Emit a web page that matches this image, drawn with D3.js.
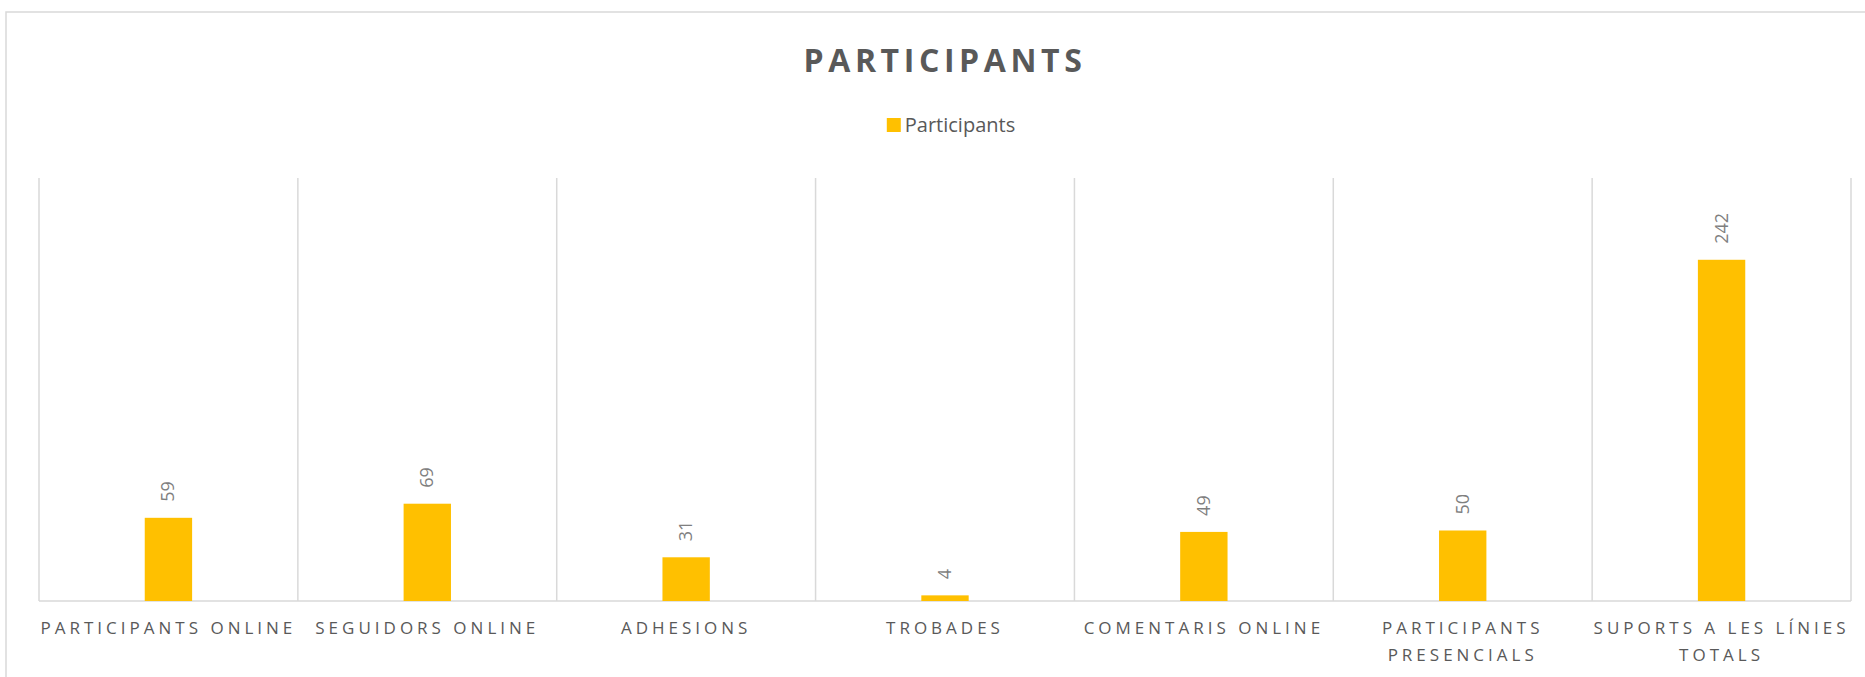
<!DOCTYPE html>
<html>
<head>
<meta charset="utf-8">
<script src="https://cdn.jsdelivr.net/npm/d3@7"></script>
<style>
  body { margin: 0; background: #fff; }
  text { font-family: "Open Sans", sans-serif; }
</style>
</head>
<body>
<svg width="1865" height="677"></svg>
<script>
// chart data
const categories = [
    "PARTICIPANTS ONLINE",
    "SEGUIDORS ONLINE",
    "ADHESIONS",
    "TROBADES",
    "COMENTARIS ONLINE",
    "PARTICIPANTS PRESENCIALS",
    "SUPORTS A LES LÍNIES TOTALS"
];
const values = [59, 69, 31, 4, 49, 50, 242];
const seriesName = "Participants";
const chartTitle = "PARTICIPANTS";

const svg = d3.select("svg");
const width = +svg.attr("width");
const height = +svg.attr("height");
const margin = {top: 178, right: 14, bottom: 76, left: 39};

// outer chart border
svg.append("rect")
    .attr("x", 6).attr("y", 12)
    .attr("width", width + 10).attr("height", height + 10)
    .attr("fill", "none")
    .attr("stroke", "#d9d9d9")
    .attr("stroke-width", 1.5);

const x = d3.scaleBand()
    .domain(categories)
    .range([margin.left, width - margin.right])
    .padding(0);

const y = d3.scaleLinear()
    .domain([0, 300])
    .range([height - margin.bottom, margin.top]);

const barW = x.bandwidth() * 0.183;

// title
svg.append("text")
    .attr("x", (margin.left + width - margin.right) / 2)
    .attr("y", 72)
    .attr("text-anchor", "middle")
    .attr("font-size", "32px")
    .attr("font-weight", 700)
    .attr("letter-spacing", "4.6px")
    .attr("fill", "#595959")
    .text(chartTitle);

// legend
const legend = svg.append("g");
legend.append("rect")
    .attr("x", 0).attr("y", -8)
    .attr("width", 14).attr("height", 14)
    .attr("fill", "#FFC000");
const legendLabel = legend.append("text")
    .attr("x", 18).attr("y", 6)
    .attr("font-size", "20px")
    .attr("fill", "#595959")
    .text(seriesName);
const legendW = 18 + legendLabel.node().getComputedTextLength();
legend.attr("transform", `translate(${(margin.left + width - margin.right) / 2 - legendW / 2 + 6},126)`);

// vertical gridlines at category edges
const edges = categories.map(c => x(c)).concat([x.range()[1]]);
svg.append("g")
    .selectAll("line")
    .data(edges)
    .join("line")
    .attr("x1", d => d).attr("x2", d => d)
    .attr("y1", margin.top).attr("y2", y(0))
    .attr("stroke", "#d9d9d9")
    .attr("stroke-width", 1.5);

// baseline
svg.append("line")
    .attr("x1", x.range()[0]).attr("x2", x.range()[1])
    .attr("y1", y(0)).attr("y2", y(0))
    .attr("stroke", "#d9d9d9")
    .attr("stroke-width", 1.5);

// bars
svg.append("g")
    .selectAll("rect")
    .data(values)
    .join("rect")
    .attr("x", (d, i) => x(categories[i]) + x.bandwidth() / 2 - barW / 2)
    .attr("y", d => y(d))
    .attr("width", barW)
    .attr("height", d => y(0) - y(d))
    .attr("fill", "#FFC000");

// data labels, rotated
svg.append("g")
    .selectAll("text")
    .data(values)
    .join("text")
    .attr("transform", (d, i) => `translate(${x(categories[i]) + x.bandwidth() / 2 + 6},${y(d) - 16}) rotate(-90)`)
    .attr("text-anchor", "start")
    .attr("font-size", "18px")
    .attr("fill", "#7f7f7f")
    .text(d => d);

// category labels with wrapping
const labels = svg.append("g")
    .selectAll("text")
    .data(categories)
    .join("text")
    .attr("x", d => x(d) + x.bandwidth() / 2)
    .attr("y", y(0) + 33)
    .attr("text-anchor", "middle")
    .attr("font-size", "17px")
    .attr("letter-spacing", "4px")
    .attr("fill", "#595959");

labels.each(function(d) {
    const t = d3.select(this);
    const words = d.split(" ");
    let line = [];
    let tspan = t.append("tspan").attr("x", t.attr("x")).attr("dy", 0);
    words.forEach(w => {
        line.push(w);
        tspan.text(line.join(" "));
        if (tspan.node().getComputedTextLength() > x.bandwidth() + 14 && line.length > 1) {
            line.pop();
            tspan.text(line.join(" "));
            line = [w];
            tspan = t.append("tspan").attr("x", t.attr("x")).attr("dy", 27).text(w);
        }
    });
});
</script>
</body>
</html>
